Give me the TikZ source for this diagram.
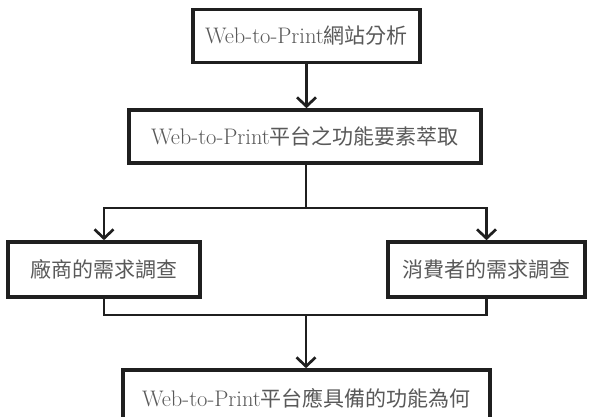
\documentclass[tikz,border=0pt]{standalone}
\usepackage{fontspec}
\newfontfamily\cjk{Noto Sans CJK TC}
\newcommand\cjtext[1]{{\fontsize{21}{25}\selectfont\cjk #1}}
\usetikzlibrary{arrows.meta}
\tikzset{
  stepbox/.style={draw=black!88, line width=3.6pt, fill=white, inner sep=0pt,
    text=black!65, font=\fontsize{22.5}{26}\selectfont, minimum height=53pt},
  link/.style={draw=black!88, line width=2.7pt},
  arr/.style={link, -{Straight Barb[length=9pt,width=19pt,line width=2.7pt]}}
}
\begin{document}
\begin{tikzpicture}[x=1pt,y=-1pt]
\useasboundingbox (0,0) rectangle (592,416);
\clip (0,0) rectangle (592,416);
\node[stepbox, minimum width=227pt] (b1) at (306.5,36) {Web-to-Print\cjtext{網站分析}};
\node[stepbox, minimum width=352pt] (b2) at (305,136.5) {Web-to-Print\cjtext{平台之功能要素萃取}};
\node[stepbox, minimum width=192pt, minimum height=55pt] (lt) at (104,269.5) {\cjtext{廠商的需求調查}};
\node[stepbox, minimum width=197pt, minimum height=55pt] (rt) at (486.5,269.5) {\cjtext{消費者的需求調查}};
\node[stepbox, minimum width=367pt, minimum height=56pt] (b4) at (306.5,398) {Web-to-Print\cjtext{平台應具備的功能為何}};
\coordinate (split) at (306,208);
\coordinate (merge) at (306,315);
\draw[arr] (b1.south) -- (b2.north -| b1.south);
\draw[link] (b2.south -| split) -- (split);
\draw[arr] (split) -| (lt.north);
\draw[arr] (split) -| (rt.north);
\draw[link] (lt.south) |- (merge);
\draw[link] (rt.south) |- (merge);
\draw[arr] (merge) -- (b4.north -| merge);
\end{tikzpicture}
\end{document}
